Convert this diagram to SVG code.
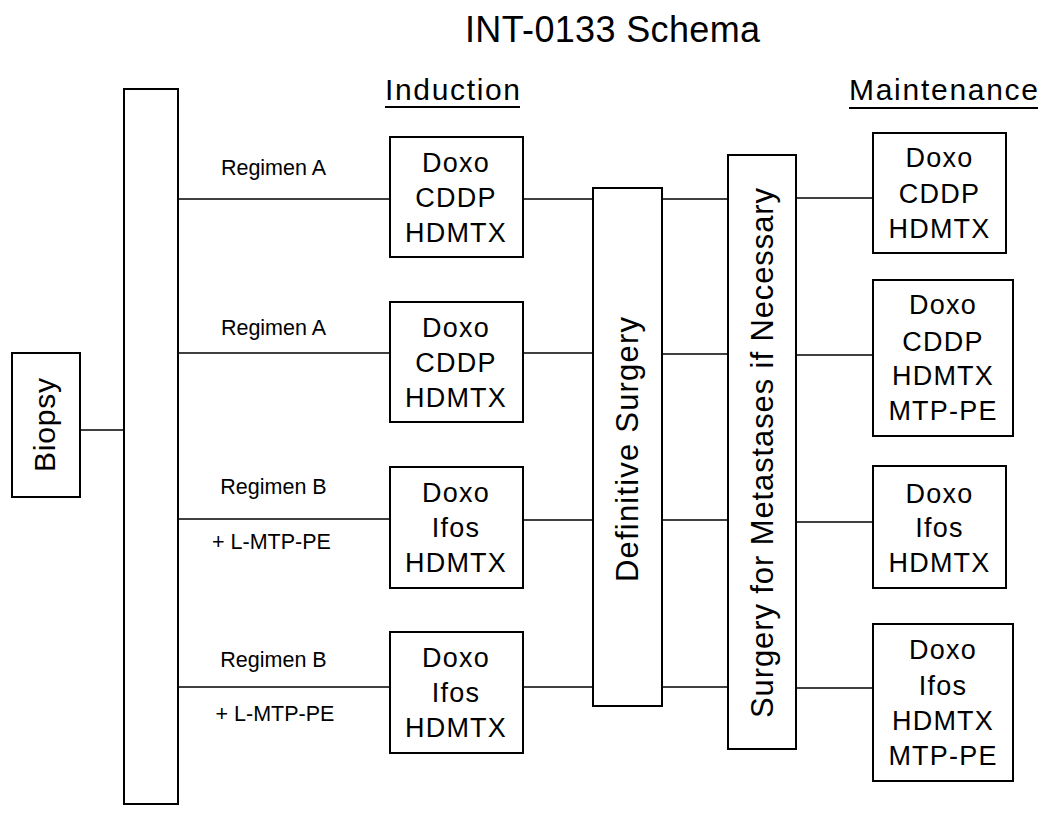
<svg xmlns="http://www.w3.org/2000/svg" width="1050" height="821" viewBox="0 0 1050 821">
<style>
.box{fill:#fff;stroke:#000;stroke-width:2}
.ln{stroke:#000;stroke-width:1.5;fill:none}
.ul{stroke:#000;stroke-width:2}
text{font-family:"Liberation Sans",Arial,sans-serif;fill:#000}
.t{font-size:27px;text-anchor:middle;letter-spacing:1.2px}
.reg{font-size:21.5px;text-anchor:middle}
.hd{font-size:30px}
.vt{font-size:31px;text-anchor:middle}
</style>
<rect width="1050" height="821" fill="#fff"/>
<text x="612.5" y="42" font-size="36" text-anchor="middle" textLength="295" lengthAdjust="spacing">INT-0133 Schema</text>
<g id="heading-induction">
<text class="hd" x="385" y="100" textLength="135" lengthAdjust="spacing">Induction</text>
<line class="ul" x1="385" y1="107" x2="520" y2="107"/>
</g>
<g id="heading-maintenance">
<text class="hd" x="849" y="100" textLength="189" lengthAdjust="spacing">Maintenance</text>
<line class="ul" x1="849" y1="108" x2="1038" y2="108"/>
</g>
<g id="connectors">
<line class="ln" x1="81" y1="430" x2="123" y2="430"/>
<line class="ln" x1="178" y1="199" x2="389" y2="199"/>
<line class="ln" x1="178" y1="353" x2="389" y2="353"/>
<line class="ln" x1="178" y1="519" x2="389" y2="519"/>
<line class="ln" x1="178" y1="687" x2="389" y2="687"/>
<line class="ln" x1="523" y1="199" x2="592" y2="199"/>
<line class="ln" x1="523" y1="353" x2="592" y2="353"/>
<line class="ln" x1="523" y1="520" x2="592" y2="520"/>
<line class="ln" x1="523" y1="687" x2="592" y2="687"/>
<line class="ln" x1="662" y1="199" x2="727" y2="199"/>
<line class="ln" x1="662" y1="354" x2="727" y2="354"/>
<line class="ln" x1="662" y1="520" x2="727" y2="520"/>
<line class="ln" x1="662" y1="687" x2="727" y2="687"/>
<line class="ln" x1="796" y1="198" x2="873" y2="198"/>
<line class="ln" x1="796" y1="355" x2="873" y2="355"/>
<line class="ln" x1="796" y1="522" x2="873" y2="522"/>
<line class="ln" x1="796" y1="688" x2="873" y2="688"/>
<text class="reg" x="273.5" y="175">Regimen A</text>
<text class="reg" x="273.5" y="335">Regimen A</text>
<text class="reg" x="273.5" y="494">Regimen B</text>
<text class="reg" x="271.5" y="549">+ L-MTP-PE</text>
<text class="reg" x="273.5" y="667">Regimen B</text>
<text class="reg" x="275" y="721">+ L-MTP-PE</text>
</g>
<g id="biopsy">
<rect class="box" x="12" y="353" width="68" height="144"/>
<text class="vt" font-size="30" transform="translate(55 425) rotate(-90)" style="font-size:30px" textLength="94" lengthAdjust="spacing">Biopsy</text>
</g>
<g id="randomization-bar">
<rect class="box" x="124" y="89" width="54" height="715"/>
</g>
<g id="induction-1">
<rect class="box" x="390" y="137" width="133" height="120"/>
<text class="t" x="456" y="172">Doxo</text>
<text class="t" x="456" y="207">CDDP</text>
<text class="t" x="456" y="242">HDMTX</text>
</g>
<g id="induction-2">
<rect class="box" x="390" y="302" width="133" height="120"/>
<text class="t" x="456" y="337">Doxo</text>
<text class="t" x="456" y="372">CDDP</text>
<text class="t" x="456" y="407">HDMTX</text>
</g>
<g id="induction-3">
<rect class="box" x="390" y="467" width="133" height="121"/>
<text class="t" x="456" y="502">Doxo</text>
<text class="t" x="456" y="537">Ifos</text>
<text class="t" x="456" y="572">HDMTX</text>
</g>
<g id="induction-4">
<rect class="box" x="390" y="632" width="133" height="121"/>
<text class="t" x="456" y="667">Doxo</text>
<text class="t" x="456" y="702">Ifos</text>
<text class="t" x="456" y="737">HDMTX</text>
</g>
<g id="definitive-surgery">
<rect class="box" x="593" y="188" width="69" height="518"/>
<text class="vt" transform="translate(638 449.5) rotate(-90)" textLength="265" lengthAdjust="spacing">Definitive Surgery</text>
</g>
<g id="metastases-surgery">
<rect class="box" x="728" y="155" width="68" height="594"/>
<text class="vt" transform="translate(773 453) rotate(-90)" textLength="530" lengthAdjust="spacing">Surgery for Metastases if Necessary</text>
</g>
<g id="maintenance-1">
<rect class="box" x="873" y="133" width="133" height="120"/>
<text class="t" x="939.5" y="167">Doxo</text>
<text class="t" x="939.5" y="203">CDDP</text>
<text class="t" x="939.5" y="238">HDMTX</text>
</g>
<g id="maintenance-2">
<rect class="box" x="873" y="280" width="140" height="156"/>
<text class="t" x="943" y="314">Doxo</text>
<text class="t" x="943" y="351">CDDP</text>
<text class="t" x="943" y="385">HDMTX</text>
<text class="t" x="943" y="420">MTP-PE</text>
</g>
<g id="maintenance-3">
<rect class="box" x="873" y="466" width="133" height="122"/>
<text class="t" x="939.5" y="503">Doxo</text>
<text class="t" x="939.5" y="537">Ifos</text>
<text class="t" x="939.5" y="572">HDMTX</text>
</g>
<g id="maintenance-4">
<rect class="box" x="873" y="624" width="140" height="157"/>
<text class="t" x="943" y="659">Doxo</text>
<text class="t" x="943" y="695">Ifos</text>
<text class="t" x="943" y="730">HDMTX</text>
<text class="t" x="943" y="765">MTP-PE</text>
</g>
</svg>
